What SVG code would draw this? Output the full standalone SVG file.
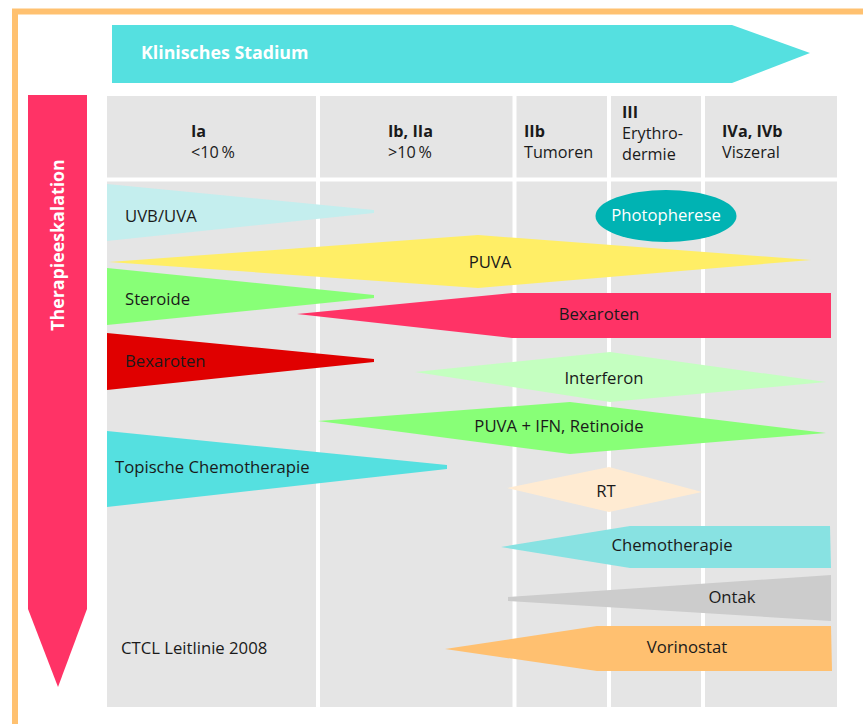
<svg xmlns="http://www.w3.org/2000/svg" width="863" height="724" viewBox="0 0 863 724">
<style>
text{font-family:"Open Sans","Noto Sans","Liberation Sans",sans-serif;font-size:16.7px;fill:#1a1a1a}
.h{font-size:16.2px}
.b{font-weight:bold}
.w{fill:#fff}
.m{text-anchor:middle}
.grid line{stroke:#fff;stroke-width:4}
</style>
<rect width="863" height="724" fill="#fff"/>
<path d="M15,724 V11.5 H863" fill="none" stroke="#FFC170" stroke-width="6"/>
<g id="stadium">
<polygon points="112,25 732,25 810,53 732,83 112,83" fill="#55E0E0"/>
<text x="141" y="59" class="b w" style="font-size:17.8px">Klinisches Stadium</text>
</g>
<g id="eskalation">
<polygon points="28,95 87,95 87,609 58,687 28,609" fill="#FF3366"/>
<text transform="translate(64,245) rotate(-90)" class="b w m" style="font-size:17.8px">Therapieeskalation</text>
</g>
<g id="grid" class="grid">
<rect x="107" y="96" width="730" height="611" fill="#E5E5E5"/>
<line x1="318" y1="96" x2="318" y2="707"/>
<line x1="514.5" y1="96" x2="514.5" y2="707"/>
<line x1="609" y1="96" x2="609" y2="707"/>
<line x1="703" y1="96" x2="703" y2="707"/>
<line x1="107" y1="179.5" x2="837" y2="179.5"/>
</g>
<g id="headers" class="h">
<text x="191" y="137" class="b h">Ia</text>
<text x="191" y="158" class="h">&lt;10&#8201;%</text>
<text x="388" y="137" class="b h">Ib, IIa</text>
<text x="388" y="158" class="h">&gt;10&#8201;%</text>
<text x="524" y="137" class="b h">IIb</text>
<text x="524" y="158" class="h">Tumoren</text>
<text x="622" y="118" class="b h">III</text>
<text x="622" y="139" class="h">Erythro-</text>
<text x="622" y="160" class="h">dermie</text>
<text x="722" y="137" class="b h">IVa, IVb</text>
<text x="722" y="158" class="h">Viszeral</text>
</g>
<g id="uvb">
<polygon points="107,184 374,210 374,213 107,241" fill="#C4EEEE"/>
<text x="125" y="222">UVB/UVA</text>
</g>
<g id="photopherese">
<ellipse cx="666" cy="216" rx="70.5" ry="26" fill="#00B3B3"/>
<text x="666" y="221" class="w m">Photopherese</text>
</g>
<g id="puva">
<polygon points="109,262 478,235 811,260 478,288" fill="#FFEE66"/>
<text x="490" y="268" class="m">PUVA</text>
</g>
<g id="steroide">
<polygon points="107,268 374,295 374,298 107,325" fill="#88FF77"/>
<text x="125" y="305">Steroide</text>
</g>
<g id="bexaroten2">
<polygon points="297,314 512,293 831,293 831,338 512,338" fill="#FF3366"/>
<text x="599" y="320" class="m">Bexaroten</text>
</g>
<g id="bexaroten1">
<polygon points="107,333 374,359 374,362 107,390" fill="#E00000"/>
<text x="125" y="367">Bexaroten</text>
</g>
<g id="interferon">
<polygon points="415,372 610,352 826,382 610,402" fill="#C4FFC0"/>
<text x="604" y="384" class="m">Interferon</text>
</g>
<g id="puvaifn">
<polygon points="318,421 570,402 826,433 570,454" fill="#88FF77"/>
<text x="559" y="432" class="m">PUVA + IFN, Retinoide</text>
</g>
<g id="topisch">
<polygon points="107,431 447,465 447,469 107,507" fill="#55E0E0"/>
<text x="115" y="473">Topische Chemotherapie</text>
</g>
<g id="rt">
<polygon points="507,488 609,467 702,492 609,512" fill="#FFEBD2"/>
<text x="606" y="497" class="m">RT</text>
</g>
<g id="chemo">
<polygon points="501,547 630,526 830,526 831,568 630,568" fill="#88E2E2"/>
<text x="672" y="551" class="m">Chemotherapie</text>
</g>
<g id="ontak">
<polygon points="508,597 831,575 831,621 508,601" fill="#CCCCCC"/>
<text x="732" y="603" class="m">Ontak</text>
</g>
<g id="vorinostat">
<polygon points="445,649 597,626 831,626 832,671 597,671" fill="#FFC070"/>
<text x="687" y="653" class="m">Vorinostat</text>
</g>
<text x="121" y="654">CTCL Leitlinie 2008</text>
</svg>
